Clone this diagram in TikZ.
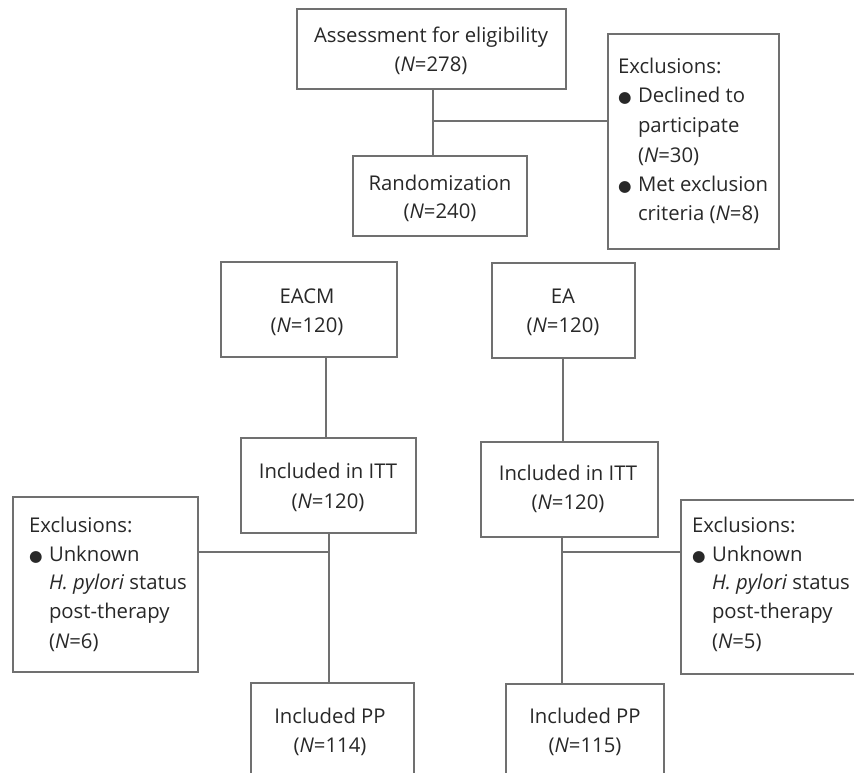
\documentclass[tikz,border=0pt]{standalone}
\usepackage{fontspec}
\setmainfont{Open Sans}
\newfontfamily\dejavu{DejaVu Sans}
\definecolor{linegray}{RGB}{112,112,112}
\definecolor{txtgray}{RGB}{40,40,40}
\tikzset{
  box/.style={draw=linegray, line width=1.8pt, inner sep=0pt, outer sep=0pt, rectangle},
  conn/.style={draw=linegray, line width=1.8pt},
  txt/.style={inner sep=0pt, outer sep=0pt, text=txtgray, font=\fontsize{20.3}{29}\selectfont},
  ctxt/.style={txt, anchor=base},
  ltxt/.style={txt, anchor=base west},
}
\newcommand{\bul}{\makebox[20pt][l]{{\dejavu\fontsize{15.5}{15.5}\selectfont ●}}}
\newcommand{\ind}{\hspace*{20pt}}
\begin{document}
\begin{tikzpicture}[x=1pt,y=-1pt]
\clip (0,0) rectangle (854,773);
\fill[white] (0,0) rectangle (854,773);

% boxes
\node[box, minimum width=269pt, minimum height=80pt] (assess) at (431.5,49) {};
\node[box, minimum width=174pt, minimum height=80pt] (rand) at (440,196) {};
\node[box, minimum width=171pt, minimum height=215pt] (excl1) at (693.5,141.5) {};
\node[box, minimum width=176pt, minimum height=95pt] (eacm) at (309,309.5) {};
\node[box, minimum width=143pt, minimum height=95pt] (ea) at (563.5,310.5) {};
\node[box, minimum width=175pt, minimum height=95pt] (itt1) at (328.5,485.5) {};
\node[box, minimum width=177pt, minimum height=95pt] (itt2) at (569.5,489.5) {};
\node[box, minimum width=185pt, minimum height=175pt] (excl2) at (105.5,584.5) {};
\node[box, minimum width=200pt, minimum height=174pt] (excl3) at (781,587) {};
\node[box, minimum width=163pt, minimum height=120pt] (pp1) at (332.5,743) {};
\node[box, minimum width=158pt, minimum height=120pt] (pp2) at (585,744) {};

% texts
\node[ctxt] (assessA) at (431,43) {Assessment for eligibility};
\node[ctxt] (assessB) at (431,72) {(\textit{N}=278)};
\node[ctxt] (randA) at (440,190) {Randomization};
\node[ctxt] (randB) at (440,218) {(\textit{N}=240)};
\node[ltxt] (ex1a) at (618,74) {Exclusions:};
\node[ltxt] (ex1b) at (618,103) {\bul Declined to};
\node[ltxt] (ex1c) at (618,133) {\ind participate};
\node[ltxt] (ex1d) at (618,162) {\ind(\textit{N}=30)};
\node[ltxt] (ex1e) at (618,191) {\bul Met exclusion};
\node[ltxt] (ex1f) at (618,220) {\ind criteria (\textit{N}=8)};
\node[ctxt] (eacmA) at (307,303) {EACM};
\node[ctxt] (eacmB) at (307,332) {(\textit{N}=120)};
\node[ctxt] (eaA) at (563,303) {EA};
\node[ctxt] (eaB) at (563,332) {(\textit{N}=120)};
\node[ctxt] (itt1A) at (328,478) {Included in ITT};
\node[ctxt] (itt1B) at (328,508) {(\textit{N}=120)};
\node[ctxt] (itt2A) at (568,480) {Included in ITT};
\node[ctxt] (itt2B) at (568,509) {(\textit{N}=120)};
\node[ltxt] (ex2a) at (29,532) {Exclusions:};
\node[ltxt] (ex2b) at (29,561) {\bul Unknown};
\node[ltxt] (ex2c) at (29,589) {\ind\textit{H. pylori} status};
\node[ltxt] (ex2d) at (29,618) {\ind post-therapy};
\node[ltxt] (ex2e) at (29,648) {\ind(\textit{N}=6)};
\node[ltxt] (ex3a) at (692,532) {Exclusions:};
\node[ltxt] (ex3b) at (692,561) {\bul Unknown};
\node[ltxt] (ex3c) at (692,589) {\ind\textit{H. pylori} status};
\node[ltxt] (ex3d) at (692,618) {\ind post-therapy};
\node[ltxt] (ex3e) at (692,648) {\ind(\textit{N}=5)};
\node[ctxt] (pp1A) at (330,723) {Included PP};
\node[ctxt] (pp1B) at (330,752) {(\textit{N}=114)};
\node[ctxt] (pp2A) at (585,723) {Included PP};
\node[ctxt] (pp2B) at (585,752) {(\textit{N}=115)};

% connectors
\coordinate (j1) at (433,121);
\coordinate (j2) at (329,552);
\coordinate (j3) at (562,552);
\draw[conn] (j1 |- assess.south) -- (j1 |- rand.north);
\draw[conn] (j1) -- (j1 -| excl1.west);
\draw[conn] (326,0 |- eacm.south) -- (326,0 |- itt1.north);
\draw[conn] (563,0 |- ea.south) -- (563,0 |- itt2.north);
\draw[conn] (j2 |- itt1.south) -- (j2 |- pp1.north);
\draw[conn] (j2) -- (j2 -| excl2.east);
\draw[conn] (j3 |- itt2.south) -- (j3 |- pp2.north);
\draw[conn] (j3) -- (j3 -| excl3.west);
\end{tikzpicture}
\end{document}
